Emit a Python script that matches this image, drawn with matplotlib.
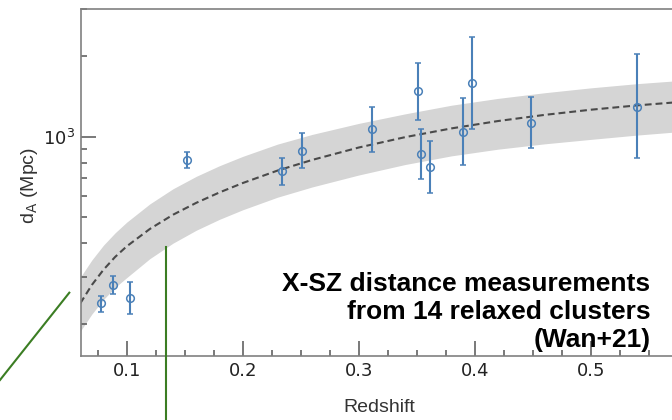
import numpy as np
import matplotlib
matplotlib.use("Agg")
import matplotlib.pyplot as plt
from matplotlib.ticker import MultipleLocator, NullFormatter
from matplotlib.lines import Line2D

z_obs = [0.0778, 0.0879, 0.1028, 0.1517, 0.2341, 0.2514, 0.3117,
         0.3509, 0.3534, 0.3615, 0.3897, 0.3977, 0.4488, 0.5402]
dA_obs = [239, 280, 251, 819, 745, 887, 1066, 1477, 860, 773, 1044, 1582, 1128, 1294]
dA_lo = [222, 259, 218, 762, 660, 766, 879, 1154, 694, 618, 784, 1066, 907, 833]
dA_hi = [255, 302, 288, 875, 835, 1030, 1287, 1889, 1066, 966, 1391, 2349, 1403, 2030]

# model curve and band
z_model = [0.06, 0.07, 0.08, 0.09, 0.10, 0.12, 0.14, 0.16, 0.18, 0.20,
           0.23, 0.26, 0.30, 0.34, 0.38, 0.42, 0.46, 0.50, 0.54, 0.58]
dA_model = [239, 280, 319, 356, 390, 453, 512, 567, 620, 672,
            748, 820, 912, 997, 1075, 1145, 1207, 1262, 1310, 1352]
band_hi = [299, 347, 394, 438, 480, 562, 640, 712, 780, 845,
           939, 1021, 1122, 1218, 1312, 1391, 1460, 1523, 1579, 1626]
band_lo = [188, 218, 247, 274, 298, 351, 401, 448, 492, 534,
           595, 650, 720, 788, 849, 899, 941, 978, 1015, 1048]

xsz_text = "X-SZ distance measurements\nfrom 14 relaxed clusters\n(Wan+21)"

pt_col = '#4a80b8'

fig = plt.figure(figsize=(6.72, 4.2), dpi=100)
ax = fig.add_axes([0.1205, 0.1524, 0.8959, 0.8262])

ax.fill_between(z_model, band_lo, band_hi, color='#d5d5d5', lw=0, zorder=1)
ax.plot(z_model, dA_model, ls=(0, (3.3, 1.9)), color='#4a4a4a', lw=1.5, zorder=2)

yerr = [np.array(dA_obs) - np.array(dA_lo), np.array(dA_hi) - np.array(dA_obs)]
ax.errorbar(z_obs, dA_obs, yerr=yerr, fmt='o', mfc='none', mec=pt_col,
            ecolor=pt_col, ms=5.5, mew=1.1, elinewidth=1.5, capsize=2.4,
            capthick=1.1, zorder=3)

ax.set_yscale('log')
ax.set_xlim(0.0606, 0.5796)
ax.set_ylim(152, 3000)

ax.xaxis.set_major_locator(MultipleLocator(0.1))
ax.xaxis.set_minor_locator(MultipleLocator(0.025))
ax.yaxis.set_minor_formatter(NullFormatter())

ax.tick_params(which='both', direction='in', color='#555555', width=1.1,
               top=False, right=False, labelsize=13, labelcolor='#222222')
ax.tick_params(which='major', length=10.5, pad=4)
ax.tick_params(which='minor', length=4.5)

for s in ['left', 'bottom', 'top']:
    ax.spines[s].set_color('#808080')
    ax.spines[s].set_linewidth(1.2)
ax.spines['right'].set_visible(False)

ax.set_xlabel('Redshift', family='Liberation Sans', fontsize=14, color='#333333')
ax.xaxis.set_label_coords(0.496, -0.124)
ax.set_ylabel('d$_\\mathrm{A}$ (Mpc)', family='Liberation Sans', fontsize=14, color='#333333')
ax.yaxis.set_label_coords(-0.068, 0.49)

# bottom line baseline sits just above the x axis
ax.text(650.5 / 672, 1 - 347 / 420, xsz_text, transform=fig.transFigure,
        ha='right', va='baseline', multialignment='right',
        family='Liberation Sans', weight='bold', fontsize=19, color='black',
        linespacing=1.2, zorder=2)

# green pointer lines overlaid on the slide
green = '#3b7d23'
fig.add_artist(Line2D([0, 69.3 / 672], [1 - 380 / 420, 1 - 292.7 / 420], color=green, lw=1.5))
fig.add_artist(Line2D([165.7 / 672, 165.7 / 672], [0, 1 - 246.7 / 420], color=green, lw=1.5))

fig.savefig('out.png', dpi=100)
